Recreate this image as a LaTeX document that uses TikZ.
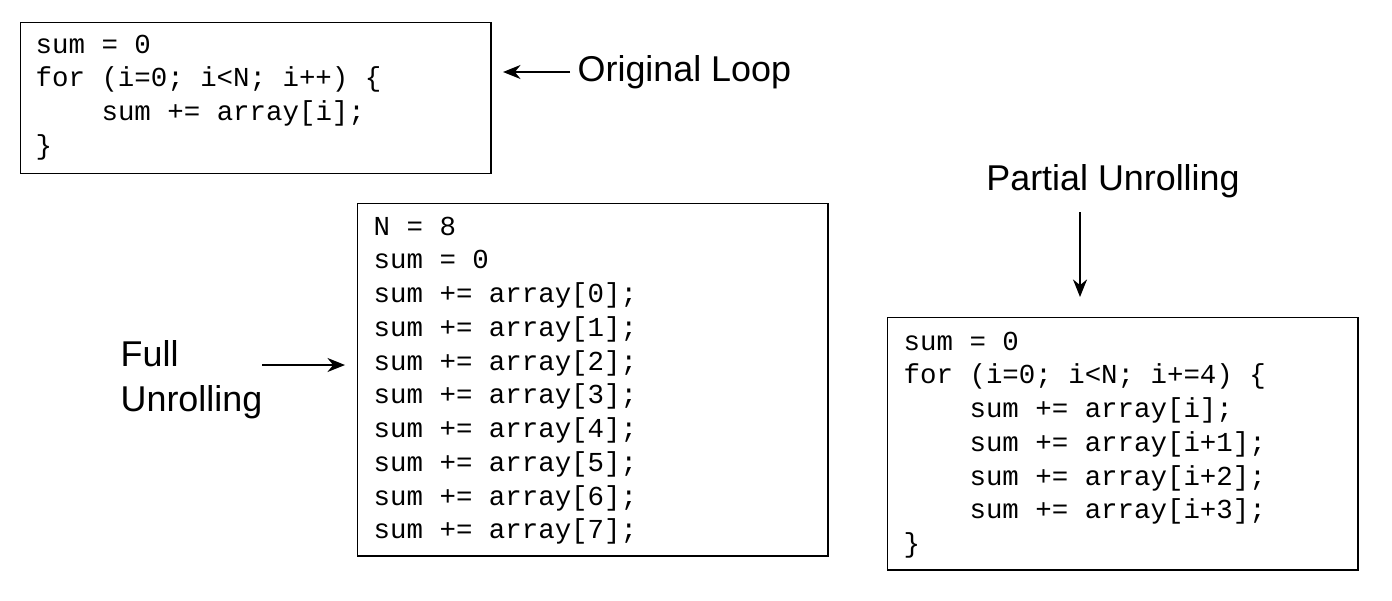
\documentclass[tikz,border=0pt]{standalone}
\usepackage{fontspec}
\setmainfont{Liberation Sans}
\setmonofont{Liberation Mono}
\usetikzlibrary{arrows.meta, positioning}

\begin{document}
\begin{tikzpicture}[x=0.01cm,y=-0.01cm,
    codebox/.style={draw,thin,inner sep=0pt,anchor=north west},
    code/.style={anchor=north west,align=left,inner sep=0pt,
      font=\ttfamily\fontsize{7.8pt}{9.6pt}\selectfont},
    label text/.style={align=left,inner sep=0pt,font=\fontsize{10.2pt}{12.8pt}\selectfont},
    pointer/.style={-{Stealth[length=5pt,width=4pt]},thin}]
  \useasboundingbox (0,0) rectangle (1392,600);

  % original loop
  \node [codebox,minimum width=4.70cm,minimum height=1.51cm] (loop) at (20,22) {};
  \node [code] (loopcode) at (35,34) {sum = 0\\for (i=0; i<N; i++) \{\\\ \ \ \ sum += array[i];\\\}};
  \node [label text,anchor=west] (origlabel) at (577,72) {Original Loop};
  \coordinate (origtip) at (503,72);
  \draw [pointer] (origlabel.west) ++(-7,0) -- (origtip);

  % full unrolling
  \node [codebox,minimum width=4.70cm,minimum height=3.52cm] (full) at (357,203) {};
  \node [code] (fullcode) at (373,216) {N = 8\\sum = 0\\sum += array[0];\\sum += array[1];\\sum += array[2];\\sum += array[3];\\sum += array[4];\\sum += array[5];\\sum += array[6];\\sum += array[7];};
  \node [label text,anchor=west] (fulllabel) at (120,380) {Full\\Unrolling};
  \coordinate (fullstart) at (262,365);
  \coordinate (fulltip) at (345,365);
  \draw [pointer] (fullstart) -- (fulltip);

  % partial unrolling
  \node [codebox,minimum width=4.70cm,minimum height=2.52cm] (partial) at (887,317) {};
  \node [code] (partialcode) at (903,331) {sum = 0\\for (i=0; i<N; i+=4) \{\\\ \ \ \ sum += array[i];\\\ \ \ \ sum += array[i+1];\\\ \ \ \ sum += array[i+2];\\\ \ \ \ sum += array[i+3];\\\}};
  \node [label text] (partlabel) at (1113,181) {Partial Unrolling};
  \coordinate (partstart) at (1080,212);
  \coordinate (parttip) at (1080,297);
  \draw [pointer] (partstart) -- (parttip);
\end{tikzpicture}
\end{document}
